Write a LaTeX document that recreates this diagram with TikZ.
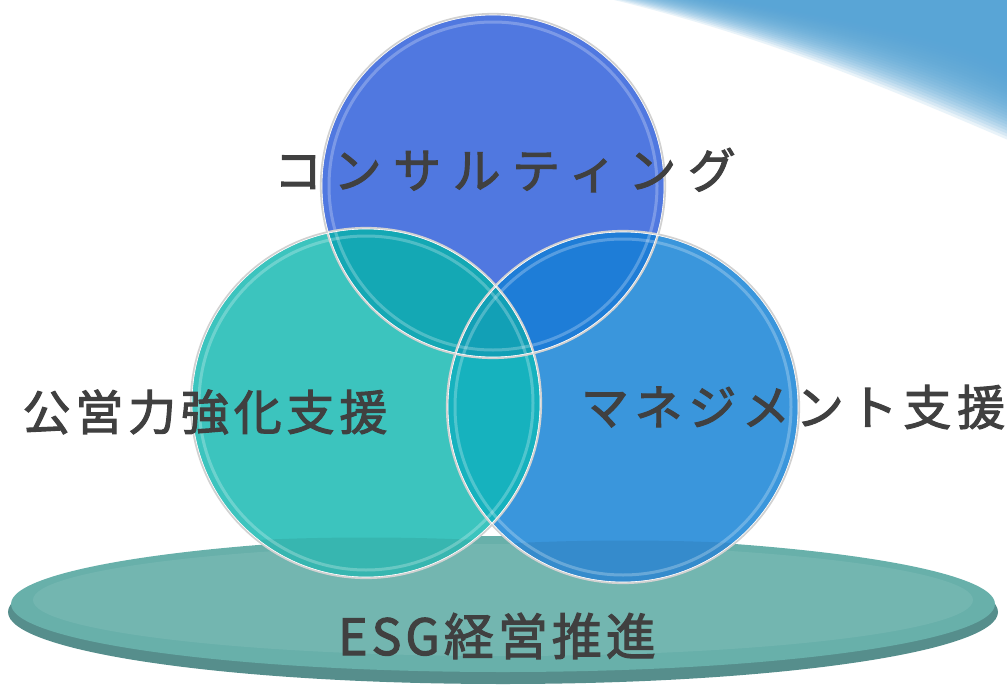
\documentclass[tikz,border=0pt]{standalone}
\usepackage{fontspec}
\newfontfamily\jp[FakeBold=2.2]{Noto Sans CJK JP}
\definecolor{topblue}{RGB}{80,120,224}
\definecolor{teal1}{RGB}{60,196,190}
\definecolor{rblue}{RGB}{58,150,220}
\definecolor{tl}{RGB}{20,168,180}
\definecolor{tr}{RGB}{30,125,215}
\definecolor{lr}{RGB}{22,178,190}
\definecolor{tlr}{RGB}{18,160,182}
\definecolor{ell}{RGB}{104,176,170}
\definecolor{ellrim}{RGB}{86,142,140}
\definecolor{sky}{RGB}{88,165,214}
\definecolor{txt}{RGB}{64,64,64}
\tikzset{
  lbl/.style={text=txt, inner sep=0pt},
  rim/.style={draw=black!18, line width=2.2pt},
}
\begin{document}
\begin{tikzpicture}[x=1pt,y=-1pt]
\useasboundingbox (0,0) rectangle (1007,688);
\fill[white] (0,0) rectangle (1007,688);
% sky swoosh
\begin{scope}
\clip (0,0) rectangle (1007,688);
\foreach \k in {0,...,24}{
  \fill[sky, fill opacity=0.13] (610+5*\k,-1) .. controls (760+4*\k,35-0.5*\k) and (880+3*\k,85-2*\k) .. (1008,140-3*\k) -- (1008,-1) -- cycle;
}
\end{scope}
% ellipse base
\fill[ellrim] (503,612) ellipse [x radius=495, y radius=72];
\fill[ell] (503,604) ellipse [x radius=492, y radius=68];
\fill[white, opacity=0.08] (503,600) ellipse [x radius=470, y radius=56];
% coordinates
\coordinate (c1) at (493,186);
\coordinate (c2) at (366,403);
\coordinate (c3) at (623,407);
% circles
\fill[topblue] (c1) circle (172);
\fill[teal1] (c2) circle (175);
\fill[rblue] (c3) circle (176);
% intersections
\begin{scope}\clip (c1) circle (172); \fill[tl] (c2) circle (175);\end{scope}
\begin{scope}\clip (c1) circle (172); \fill[tr] (c3) circle (176);\end{scope}
\begin{scope}\clip (c2) circle (175); \fill[lr] (c3) circle (176);\end{scope}
\begin{scope}\clip (c1) circle (172); \clip (c2) circle (175); \fill[tlr] (c3) circle (176);\end{scope}
% glass effects: dark bottom band
\begin{scope}\clip (c2) circle (175); \fill[black, opacity=0.07] (180,545) .. controls (300,535) and (430,535) .. (560,545) -- (560,600) -- (180,600) -- cycle;\end{scope}
\begin{scope}\clip (c3) circle (176); \fill[black, opacity=0.07] (440,548) .. controls (560,538) and (690,538) .. (810,548) -- (810,600) -- (440,600) -- cycle;\end{scope}
% inner highlight rings
\draw[white, opacity=0.25, line width=3pt] (c1) circle (164);
\draw[white, opacity=0.25, line width=3pt] (c2) circle (167);
\draw[white, opacity=0.25, line width=3pt] (c3) circle (168);
% outer rims
\draw[rim] (c1) circle (172);
\draw[rim] (c2) circle (175);
\draw[rim] (c3) circle (176);
\draw[white, line width=0.6pt] (c1) circle (171);
\draw[white, line width=0.6pt] (c2) circle (174);
\draw[white, line width=0.6pt] (c3) circle (175);
% labels
\node[lbl, font={\jp\addfontfeatures{LetterSpace=24}\fontsize{48}{52}\selectfont}] (t1) at (505,170) {コンサルティング};
\node[lbl, font={\jp\addfontfeatures{LetterSpace=10}\fontsize{48}{52}\selectfont}] (t2) at (205,412) {公営力強化支援};
\node[lbl, font={\jp\addfontfeatures{LetterSpace=12}\fontsize{48}{52}\selectfont}] (t3) at (793,407) {マネジメント支援};
\node[lbl, font={\jp\addfontfeatures{LetterSpace=8}\fontsize{50}{54}\selectfont}] (t4) at (497,636) {ESG経営推進};
\end{tikzpicture}
\end{document}
